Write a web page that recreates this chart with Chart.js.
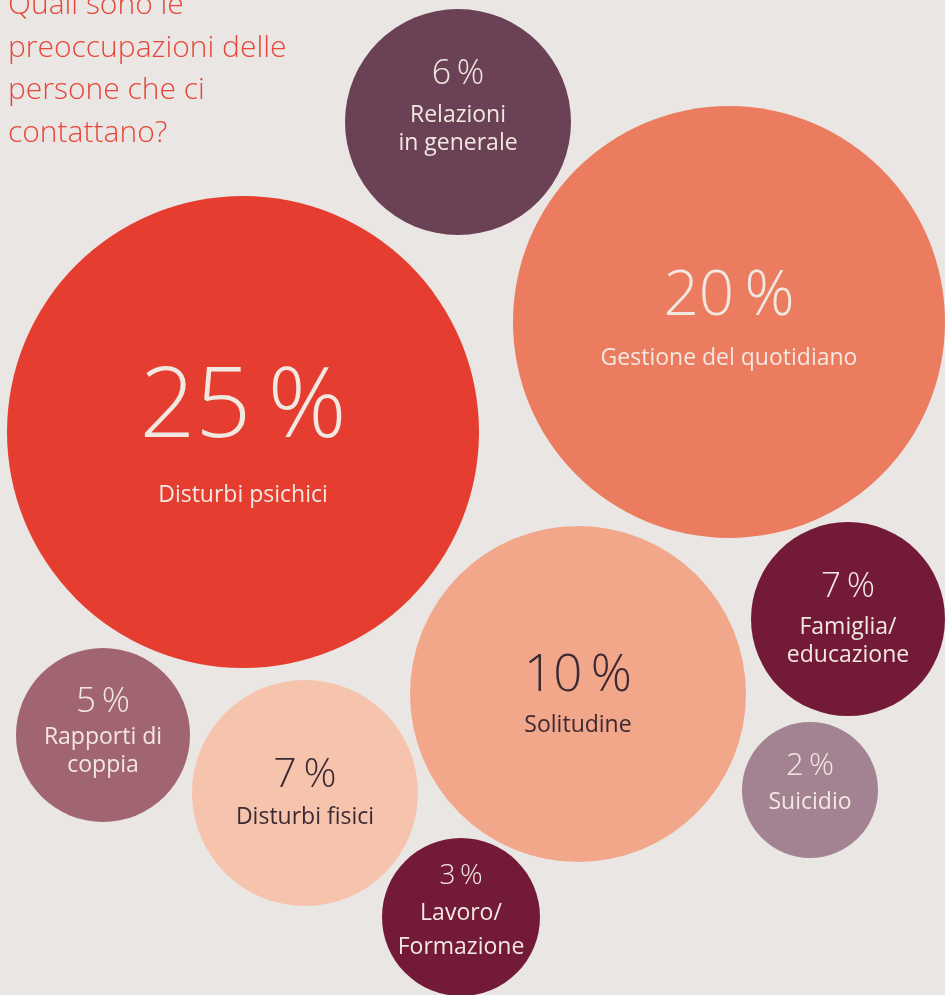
<!DOCTYPE html>
<html>
<head>
<meta charset="utf-8">
<script src="https://cdn.jsdelivr.net/npm/chart.js@4"></script>
<style>
  html, body { margin: 0; padding: 0; background: #EAE6E3; }
  #wrap { position: relative; width: 945px; height: 995px; overflow: hidden; }
  canvas { display: block; }
</style>
</head>
<body>
<div id="wrap"><canvas id="c" width="945" height="995"></canvas></div>
<script>
// ---- data ----
const titleLines = ['Quali sono le', 'preoccupazioni delle', 'persone che ci', 'contattano?'];
const categories = ['Disturbi psichici', 'Gestione del quotidiano', 'Relazioni in generale', 'Solitudine',
  'Famiglia/educazione', 'Suicidio', 'Rapporti di coppia', 'Disturbi fisici', 'Lavoro/Formazione'];
const labelLines = [['Disturbi psichici'], ['Gestione del quotidiano'], ['Relazioni', 'in generale'], ['Solitudine'],
  ['Famiglia/', 'educazione'], ['Suicidio'], ['Rapporti di', 'coppia'], ['Disturbi fisici'], ['Lavoro/', 'Formazione']];
const shares = [25, 20, 6, 10, 7, 2, 5, 7, 3];
const posX = [243, 729, 458, 578, 848, 810, 103, 305, 461];
const posY = [432, 322, 122, 694, 619, 790, 735, 793, 917];
const radii = [236, 216, 113, 168, 97, 68, 87, 113, 79];

// ---- styles ----
const fills = ['#E53E30', '#EC7C60', '#6B4155', '#F2A68A', '#741A39', '#A38291', '#A06570', '#F6C3AD', '#741A39'];
const LIGHT = '#F2E8E2', DARK = '#3B2A33';
const textColors = [LIGHT, LIGHT, LIGHT, DARK, LIGHT, LIGHT, LIGHT, DARK, LIGHT];
// per bubble: number font size, number baseline offset, first label baseline offset, label line height
const textLayout = [
  { ns: 98, nb: 5, lb: 70, lh: 28 },
  { ns: 62, nb: -7, lb: 43, lh: 28 },
  { ns: 34, nb: -38, lb: 0, lh: 28 },
  { ns: 51, nb: -3, lb: 38, lh: 28 },
  { ns: 35, nb: -22, lb: 15, lh: 28 },
  { ns: 31, nb: -15, lb: 19, lh: 28 },
  { ns: 35, nb: -23, lb: 9, lh: 28 },
  { ns: 41, nb: -6, lb: 31, lh: 28 },
  { ns: 28, nb: -33, lb: 3, lh: 34 }
];
const FONT = '"Open Sans", "Noto Sans", sans-serif';

const labelPlugin = {
  id: 'bubbleLabels',
  afterDatasetsDraw(chart) {
    const ctx = chart.ctx;
    const meta = chart.getDatasetMeta(0);
    ctx.save();
    ctx.textAlign = 'center';
    ctx.textBaseline = 'alphabetic';
    meta.data.forEach((el, i) => {
      const L = textLayout[i];
      ctx.fillStyle = textColors[i];
      ctx.font = `300 ${L.ns}px ${FONT}`;
      ctx.fillText(shares[i] + '\u2009%', el.x, el.y + L.nb);
      ctx.font = `400 23px ${FONT}`;
      labelLines[i].forEach((t, k) => ctx.fillText(t, el.x, el.y + L.lb + k * L.lh));
    });
    // title
    ctx.textAlign = 'left';
    ctx.fillStyle = '#E6463A';
    ctx.font = `300 30px ${FONT}`;
    titleLines.forEach((t, k) => ctx.fillText(t, 8, 14 + k * 42.5));
    ctx.restore();
  }
};

new Chart(document.getElementById('c'), {
  type: 'bubble',
  data: {
    labels: categories,
    datasets: [{
      label: 'Preoccupazioni',
      data: shares.map((s, i) => ({ x: posX[i], y: posY[i], r: radii[i], v: s })),
      backgroundColor: fills,
      borderWidth: 0,
      hoverRadius: 0,
      clip: false
    }]
  },
  options: {
    responsive: false,
    animation: false,
    events: [],
    layout: { padding: 0, autoPadding: false },
    scales: {
      x: { display: false, min: 0, max: 945 },
      y: { display: false, min: 0, max: 995, reverse: true }
    },
    plugins: { legend: { display: false }, tooltip: { enabled: false }, title: { display: false } }
  },
  plugins: [labelPlugin]
});
</script>
</body>
</html>
